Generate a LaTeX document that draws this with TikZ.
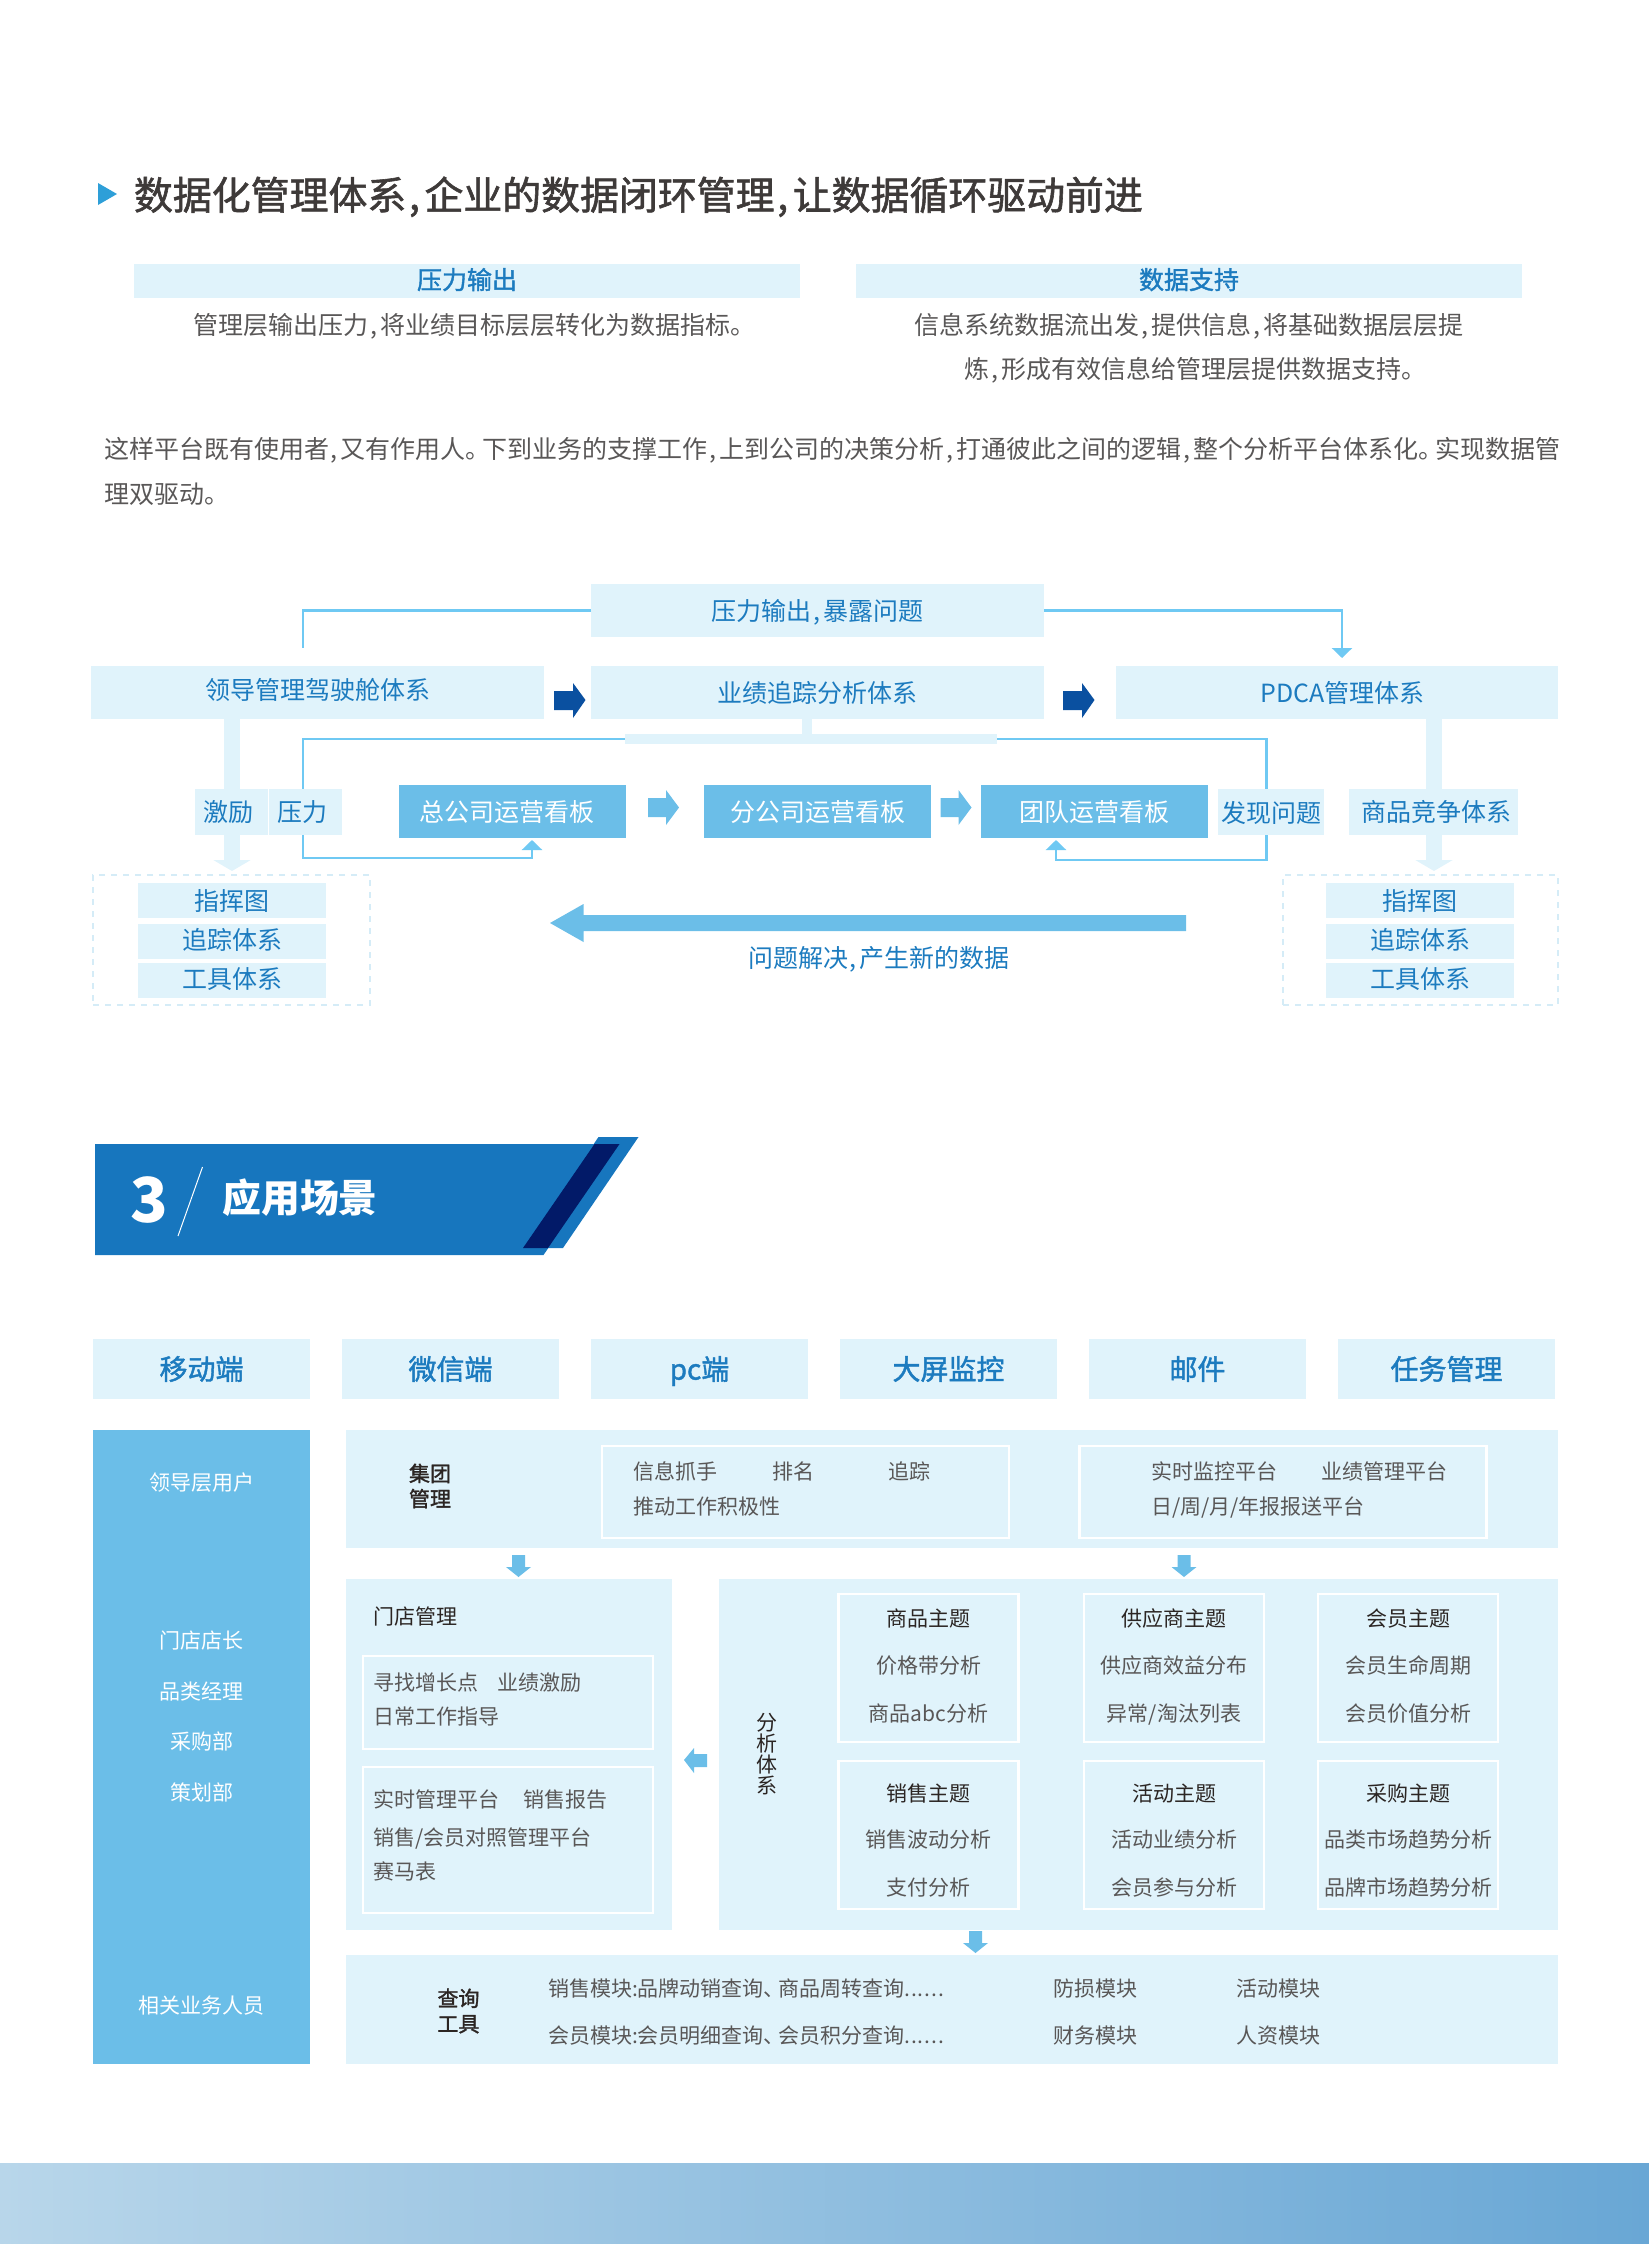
\documentclass[tikz,border=0pt]{standalone}
\usepackage{fontspec}
\setmainfont{Noto Sans CJK SC}[RawFeature={+palt}]
\newfontfamily\medfont{Noto Sans CJK SC}[RawFeature={+palt},FakeBold=1.5]
\usetikzlibrary{arrows.meta}

\newcommand{\dou}{\kern.07em,\kern.12em}
\newcommand{\ju}{。\kern.19em}
\newcommand{\dun}{、\kern.19em}
\newcommand{\mao}{:}
\newcommand{\sixdots}{.\kern.045em.\kern.045em.\kern.045em.\kern.045em.\kern.045em.}

\definecolor{pale}{HTML}{E0F3FB}
\definecolor{midblue}{HTML}{6BBEE8}
\definecolor{linkblue}{HTML}{6FC9F3}
\definecolor{bluetxt}{HTML}{1C7BBF}
\definecolor{greytxt}{HTML}{595757}
\definecolor{darktxt}{HTML}{2B2523}
\definecolor{titletxt}{HTML}{3E3A39}
\definecolor{titlemark}{HTML}{2E9FD8}
\definecolor{navy}{HTML}{0A50A0}
\definecolor{bannerblue}{HTML}{1776BE}
\definecolor{bannerdark}{HTML}{021A68}
\definecolor{dashblue}{HTML}{D5ECF7}
\definecolor{footl}{HTML}{B8D6EA}
\definecolor{footr}{HTML}{69A7D5}

\begin{document}
\begin{tikzpicture}[x=0.5pt, y=-0.5pt, >={Triangle[width=10pt,length=5pt]},
    boxsize/.style 2 args={minimum width=#1*0.5pt, minimum height=#2*0.5pt},
    base/.style={inner sep=0pt, outer sep=0pt},
    bigfont/.style={font=\fontsize{12.5}{15}\selectfont, text height=11pt, text depth=1.5pt},
    smallfont/.style={font=\fontsize{10.5}{13}\selectfont, text height=9.9pt, text depth=1.3pt},
    palebox/.style={base, bigfont, fill=pale, text=bluetxt},
    board/.style={base, bigfont, fill=midblue, text=white, boxsize={227}{53}},
    headbox/.style={base, fill=pale, text=bluetxt, font=\medfont\fontsize{12.5}{15}\selectfont, text height=11pt, text depth=2.9pt, boxsize={666}{34}},
    tabbox/.style={base, fill=pale, text=bluetxt, font=\medfont\fontsize{14}{17}\selectfont, text height=12.3pt, text depth=1.7pt, boxsize={217}{60}},
    panel/.style={base, fill=pale},
    whitebox/.style={base, draw=white, line width=1.4pt},
    dashbox/.style={base, draw=dashblue, line width=1.2pt, dash pattern=on 3pt off 3pt},
    bodytxt/.style={base, bigfont, text=greytxt},
    smalltxt/.style={base, smallfont, text=greytxt},
    leftsmall/.style={smalltxt, anchor=west},
    headtxt/.style={base, smallfont, text=darktxt},
    link/.style={draw=linkblue, line width=1.25pt},
    palebar/.style={draw=pale, line width=8pt, -{Triangle[width=18.5pt,length=5.5pt]}}]
    \useasboundingbox (0,0) rectangle (1649,2244);

    % Heading and top text
    \fill[titlemark] (98,183) -- (117,194) -- (98,205) -- cycle;
    \node[base, anchor=west, text=titletxt, font=\medfont\fontsize{19.45}{24}\selectfont, text height=17pt, text depth=2.4pt] (title) at (134,195) {数据化管理体系\dou 企业的数据闭环管理\dou 让数据循环驱动前进};
    \node[headbox] (outhead) at (467,281) {压力输出};
    \node[headbox] (supporthead) at (1189,281) {数据支持};
    \node[bodytxt] (outline) at (468,325) {管理层输出压力\dou 将业绩目标层层转化为数据指标。};
    \node[bodytxt] (supportone) at (1189,325) {信息系统数据流出发\dou 提供信息\dou 将基础数据层层提};
    \node[bodytxt] (supporttwo) at (1189,369) {炼\dou 形成有效信息给管理层提供数据支持。};
    \node[bodytxt, anchor=west] (paraone) at (104,449) {这样平台既有使用者\dou 又有作用人\ju 下到业务的支撑工作\dou 上到公司的决策分析\dou 打通彼此之间的逻辑\dou 整个分析平台体系化\ju 实现数据管};
    \node[bodytxt, anchor=west] (paratwo) at (104,494) {理双驱动。};

    % Define nodes
    \node[palebox, boxsize={453}{53}] (press) at (817.5,610.5) {压力输出\dou 暴露问题};
    \node[palebox, boxsize={453}{53}, text depth=4.5pt] (lead) at (317.5,692.5) {领导管理驾驶舱体系};
    \node[palebox, boxsize={453}{53}] (perf) at (817.5,692.5) {业绩追踪分析体系};
    \node[palebox, boxsize={442}{53}] (pdca) at (1337,692.5) {\kern5.5pt PDCA管理体系};
    \node[panel, boxsize={372}{10}] (trunk) at (811,739) {};
    \node[board] (hq) at (512.5,811.5) {总公司运营看板\kern6pt};
    \node[board] (branch) at (817.5,811.5) {分公司运营看板};
    \node[board] (team) at (1094.5,811.5) {团队运营看板};
    \node[dashbox, boxsize={277}{130}] (dashL) at (231.5,940) {};
    \node[dashbox, boxsize={275}{130}] (dashR) at (1420.5,940) {};

    \coordinate (leadup) at (303,648);
    \coordinate (pdcain) at (1342,658);
    \coordinate (perfout) at (807,719);
    \coordinate (trunkin) at (807,734);
    \coordinate (pressup) at (303,789);
    \coordinate (pressdn) at (303,835);
    \coordinate (hqturn) at (532,858);
    \coordinate (hqin) at (532,840);
    \coordinate (findup) at (1266.5,789);
    \coordinate (finddn) at (1266.5,835);
    \coordinate (teamturn) at (1056,860);
    \coordinate (teamin) at (1056,840);
    \coordinate (leadout) at (232,719);
    \coordinate (leadtip) at (232,871);
    \coordinate (pdcaout) at (1434,719);
    \coordinate (pdcatip) at (1434,871);

    % Connectors
    \draw[link] (press.west) -| (leadup);
    \draw[link, ->] (press.east) -| (pdcain);
    \draw[link] (trunk.west) -| (pressup);
    \draw[link] (trunk.east) -| (findup);
    \draw[link, ->] (pressdn) |- (hqturn) -- (hqin);
    \draw[link, ->] (finddn) |- (teamturn) -- (teamin);
    \draw[draw=pale, line width=5pt] (perfout) -- (trunkin);
    \draw[palebar] (leadout) -- (leadtip);
    \draw[palebar] (pdcaout) -- (pdcatip);

    % Labels over the connectors
    \node[palebox, boxsize={73}{46}] (spur) at (231.5,812) {激励\kern3pt};
    \node[palebox, boxsize={73}{46}] (pressure) at (305.5,812) {压力\kern3pt};
    \node[palebox, boxsize={106}{46}, text height=12pt] (find) at (1271,812) {发现问题};
    \node[palebox, boxsize={169}{46}] (compete) at (1433.5,812) {\kern3pt 商品竞争体系};

    \foreach \name/\x in {L/232, R/1420} {
        \node[palebox, boxsize={188}{35}] (map\name) at (\x,900.5) {指挥图};
        \node[palebox, boxsize={188}{35}, text depth=2.9pt] (track\name) at (\x,941.5) {追踪体系};
        \node[palebox, boxsize={188}{35}, text depth=2.9pt] (tool\name) at (\x,980.5) {工具体系};
    }

    % Block arrows
    \foreach \x in {554,1063}
        \fill[navy] (\x,691) -- (\x+19,691) -- (\x+19,683) -- (\x+31.5,700) -- (\x+19,718) -- (\x+19,710) -- (\x,710) -- cycle;
    \foreach \x in {648,940.5}
        \fill[midblue] (\x,798) -- (\x+18,798) -- (\x+18,790) -- (\x+31,807.5) -- (\x+18,825) -- (\x+18,817) -- (\x,817) -- cycle;
    \fill[midblue] (1186,915) -- (583.5,915) -- (583.5,904) -- (550,923) -- (583.5,942) -- (583.5,931) -- (1186,931) -- cycle;
    \node[base, bigfont, text=bluetxt] (solved) at (879,958) {问题解决\dou 产生新的数据};

    % Section banner
    \fill[bannerblue] (95,1144) -- (620,1144) -- (543.5,1255) -- (95,1255) -- cycle;
    \fill[bannerblue] (523,1248) -- (563,1248) -- (638.5,1137) -- (598.5,1137) -- cycle;
    \fill[bannerdark] (523,1248) -- (548,1248) -- (619.5,1144) -- (594.5,1144) -- cycle;
    \node[base, text=white, font=\bfseries\fontsize{31}{36}\selectfont] (num) at (149.5,1200) {3};
    \node[base, text=white, font=\bfseries\fontsize{19.4}{23}\selectfont, text height=16.7pt, text depth=2.3pt] (scene) at (300,1198) {应用场景};
    \coordinate (slashtop) at (202.5,1167);
    \coordinate (slashend) at (178,1236);
    \draw[white, line width=0.5pt] (slashtop) -- (slashend);

    % Tabs
    \foreach \name/\x/\tab in {mobile/201.5/移动端, wechat/450.5/微信端, pc/699.5/pc端, screen/948.5/大屏监控, mail/1197.5/邮件, task/1446.5/任务管理}
        \node[tabbox] (\name) at (\x,1369) {\tab};

    % Users
    \node[base, fill=midblue, boxsize={217}{634}] (users) at (201.5,1747) {};
    \foreach \name/\y/\role in {leaders/1481.5/领导层用户, owner/1640/门店店长, category/1690.5/品类经理, buying/1741/采购部, planning/1792/策划部, staff/2005/相关业务人员}
        \node[base, smallfont, text=white] (\name) at (201.5,\y) {\role};

    % Group panel
    \node[panel, boxsize={1212}{118}] (group) at (952,1489) {};
    \node[base, text=darktxt, align=left, font=\medfont\fontsize{10.5}{12.6}\selectfont] (grouptxt) at (430,1486) {集团\\管理};
    \node[whitebox, boxsize={407}{92}] (groupA) at (805.5,1492) {};
    \node[whitebox, boxsize={407}{92}] (groupB) at (1283,1492) {};
    \node[leftsmall] (ga1) at (633.5,1471) {信息抓手};
    \node[leftsmall] (ga2) at (772,1471) {排名};
    \node[leftsmall] (ga3) at (888,1471) {追踪};
    \node[leftsmall] (ga4) at (633.5,1506) {推动工作积极性};
    \node[leftsmall] (gb1) at (1151,1471) {实时监控平台};
    \node[leftsmall] (gb2) at (1321,1471) {业绩管理平台};
    \node[leftsmall] (gb3) at (1151,1506) {日/周/月/年报报送平台};

    % Store panel
    \node[panel, boxsize={326}{351}] (store) at (509,1754.5) {};
    \node[base, smallfont, text=darktxt, anchor=west] (storehead) at (373,1615.5) {门店管理};
    \node[whitebox, boxsize={290}{93}] (storeA) at (508,1702.5) {};
    \node[whitebox, boxsize={290}{146}] (storeB) at (508,1840) {};
    \node[leftsmall] (sa1) at (373,1682) {寻找增长点};
    \node[leftsmall] (sa2) at (497,1682) {业绩激励};
    \node[leftsmall] (sa3) at (373,1716) {日常工作指导};
    \node[leftsmall] (sb1) at (373,1799) {实时管理平台};
    \node[leftsmall] (sb2) at (523,1799) {销售报告};
    \node[leftsmall] (sb3) at (373,1836.5) {销售/会员对照管理平台};
    \node[leftsmall] (sb4) at (373,1871) {赛马表};

    % Analysis panel
    \node[panel, boxsize={839}{351}] (analysis) at (1138.5,1754.5) {};
    \node[base, text=darktxt, align=center, font=\fontsize{10.5}{10.5}\selectfont] (analysistxt) at (766.5,1754.5) {分\\析\\体\\系};
    \foreach \name/\x/\head/\one/\two in {goods/928.5/商品主题/价格带分析/商品abc分析, supplier/1174/供应商主题/供应商效益分布/{异常/淘汰列表}, member/1408/会员主题/会员生命周期/会员价值分析} {
        \node[whitebox, boxsize={180}{148}] (\name) at (\x,1668) {};
        \node[headtxt] (\name h) at (\x,1618) {\head};
        \node[smalltxt] (\name a) at (\x,1665) {\one};
        \node[smalltxt] (\name b) at (\x,1712.5) {\two};
    }
    \foreach \name/\x/\head/\one/\two in {sales/928.5/销售主题/销售波动分析/支付分析, campaign/1174/活动主题/活动业绩分析/会员参与分析, purchase/1408/采购主题/品类市场趋势分析/品牌市场趋势分析} {
        \node[whitebox, boxsize={180}{148}] (\name) at (\x,1835) {};
        \node[headtxt] (\name h) at (\x,1793) {\head};
        \node[smalltxt] (\name a) at (\x,1838.5) {\one};
        \node[smalltxt] (\name b) at (\x,1887) {\two};
    }

    % Query panel
    \node[panel, boxsize={1212}{109}] (query) at (952,2009.5) {};
    \node[base, text=darktxt, align=left, font=\medfont\fontsize{10.5}{12.7}\selectfont] (querytxt) at (458.5,2011) {查询\\工具};
    \node[leftsmall] (q1) at (548,1988) {销售模块\mao 品牌动销查询\dun 商品周转查询\sixdots};
    \node[leftsmall] (q2) at (548,2034.5) {会员模块\mao 会员明细查询\dun 会员积分查询\sixdots};
    \node[leftsmall] (q3) at (1053,1988) {防损模块};
    \node[leftsmall] (q4) at (1236,1988) {活动模块};
    \node[leftsmall] (q5) at (1053,2034.5) {财务模块};
    \node[leftsmall] (q6) at (1236,2034.5) {人资模块};

    % Small arrows between panels
    \foreach \x/\y in {518.5/1555, 1184/1555, 975.5/1931}
        \fill[midblue] (\x-6.5,\y) -- (\x+6.5,\y) -- (\x+6.5,\y+12) -- (\x+12.5,\y+12) -- (\x,\y+22) -- (\x-12.5,\y+12) -- (\x-6.5,\y+12) -- cycle;
    \fill[midblue] (707,1754) -- (694,1754) -- (694,1748) -- (684,1760) -- (694,1773) -- (694,1767) -- (707,1767) -- cycle;

    % Footer band
    \shade[left color=footl, right color=footr] (0,2163) rectangle (1649,2244);
\end{tikzpicture}
\end{document}
